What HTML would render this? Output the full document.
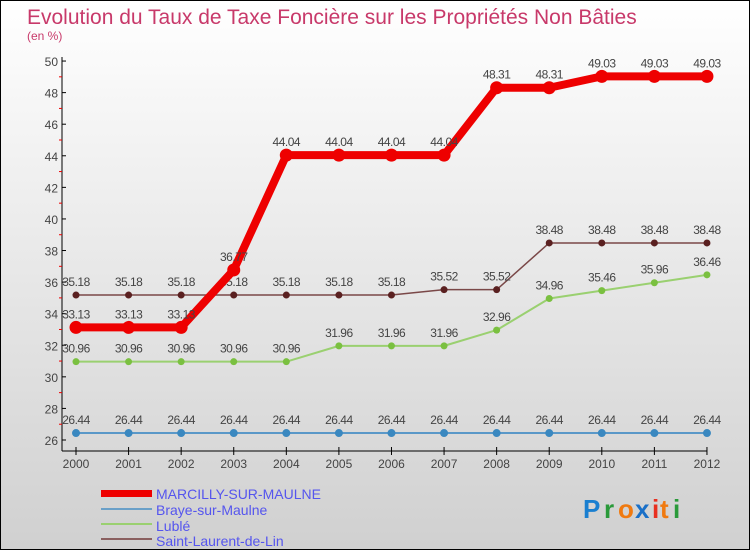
<!DOCTYPE html>
<html><head><meta charset="utf-8"><style>
body{margin:0}
#c{width:748px;height:548px;border:1px solid #000;background:linear-gradient(#fff,#ececec 40%,#d0d0d0);position:relative;font-family:"Liberation Sans",sans-serif;overflow:hidden}
</style></head><body>
<div id="c">
<svg id="s" width="748" height="548">
<text x="26" y="23" font-size="21" fill="#c8396a">Evolution du Taux de Taxe Foncière sur les Propriétés Non Bâties</text>
<text x="26" y="39" font-size="12" fill="#c8396a">(en %)</text>
<g id="g"></g>
<g>
<rect x="100" y="489" width="51" height="7" fill="#e00"/>
<text x="155" y="498" font-size="14" fill="#5555ee">MARCILLY-SUR-MAULNE</text>
<rect x="100" y="507" width="51" height="2" fill="#6aa0c8"/>
<text x="155" y="514" font-size="14" fill="#5555ee">Braye-sur-Maulne</text>
<rect x="100" y="522" width="51" height="2" fill="#9ad070"/>
<text x="155" y="530" font-size="14" fill="#5555ee">Lublé</text>
<rect x="100" y="537" width="51" height="2" fill="#8a6060"/>
<text x="155" y="545" font-size="14" fill="#5555ee">Saint-Laurent-de-Lin</text>
</g>
<g font-size="26" font-weight="bold">
<text x="582" y="517" fill="#1a7fd0">P</text><text x="603" y="517" fill="#2a9a3a">r</text><text x="617" y="517" fill="#f07a10">o</text><text x="634" y="517" fill="#1a70c8">x</text><text x="651" y="517" fill="#e83020">i</text><text x="659" y="517" fill="#f07a10">t</text><text x="672" y="517" fill="#2a9a3a">i</text>
</g>
</svg>
</div>
<script>
const years=[2000,2001,2002,2003,2004,2005,2006,2007,2008,2009,2010,2011,2012];
const marcilly=[33.13,33.13,33.13,36.77,44.04,44.04,44.04,44.04,48.31,48.31,49.03,49.03,49.03];
const braye=[26.44,26.44,26.44,26.44,26.44,26.44,26.44,26.44,26.44,26.44,26.44,26.44,26.44];
const luble=[30.96,30.96,30.96,30.96,30.96,31.96,31.96,31.96,32.96,34.96,35.46,35.96,36.46];
const stlaurent=[35.18,35.18,35.18,35.18,35.18,35.18,35.18,35.52,35.52,38.48,38.48,38.48,38.48];
const yTicks=[26,28,30,32,34,36,38,40,42,44,46,48,50];
const NS="http://www.w3.org/2000/svg";
const g=document.getElementById('g');
const X=i=>75+i*52.58;
const Y=v=>439-(v-26)*15.79;
function mk(t,a,p){const e=document.createElementNS(NS,t);for(const k in a)e.setAttribute(k,a[k]);(p||g).appendChild(e);return e;}
let ax=mk('line',{x1:61,y1:56,x2:61,y2:450,stroke:'#000'});


let xx=mk('line',{x1:61,y1:450,x2:706,y2:450,stroke:'#000'});


yTicks.forEach(v=>{
 mk('line',{x1:61,y1:Y(v),x2:65,y2:Y(v),stroke:'#000'});
 if(v<50)mk('line',{x1:58,y1:Y(v+1),x2:61,y2:Y(v+1),stroke:'#e00'});
 const t=mk('text',{x:57,y:Y(v)+5,'font-size':12,'text-anchor':'end',fill:'#444'});
 t.textContent=v;
 
 
});
years.forEach((yr,i)=>{
 mk('line',{x1:X(i),y1:446,x2:X(i),y2:454,stroke:'#000'});
 const t=mk('text',{x:X(i),y:467,'font-size':12,'text-anchor':'middle',fill:'#444'});
 t.textContent=yr;
 
 
});
function series(d,name,col,w,r,dot,ls){
 const p=mk('polyline',{points:d.map((v,i)=>X(i)+','+Y(v)).join(' '),fill:'none',stroke:col,'stroke-width':w,'stroke-linejoin':'round'});
 
 
 d.forEach((v,i)=>{
  const c=mk('circle',{cx:X(i),cy:Y(v),r:r,fill:dot});
  
  
  const t=mk('text',{x:X(i),y:Y(v)-9,'font-size':12,'text-anchor':'middle',fill:'#444','letter-spacing':'-0.5'});
  t.textContent=v.toFixed(2);
  
  
 });
}
series(braye,'braye','#5a98c8',2,4,'#3a88c0');
series(luble,'luble','#9ad070',2,3.5,'#7ac040');
series(stlaurent,'saint-laurent','#7a4848',1.5,3.5,'#5a2020');
series(marcilly,'marcilly','#ee0000',8,6.5,'#ee0000');
</script>
</body></html>
